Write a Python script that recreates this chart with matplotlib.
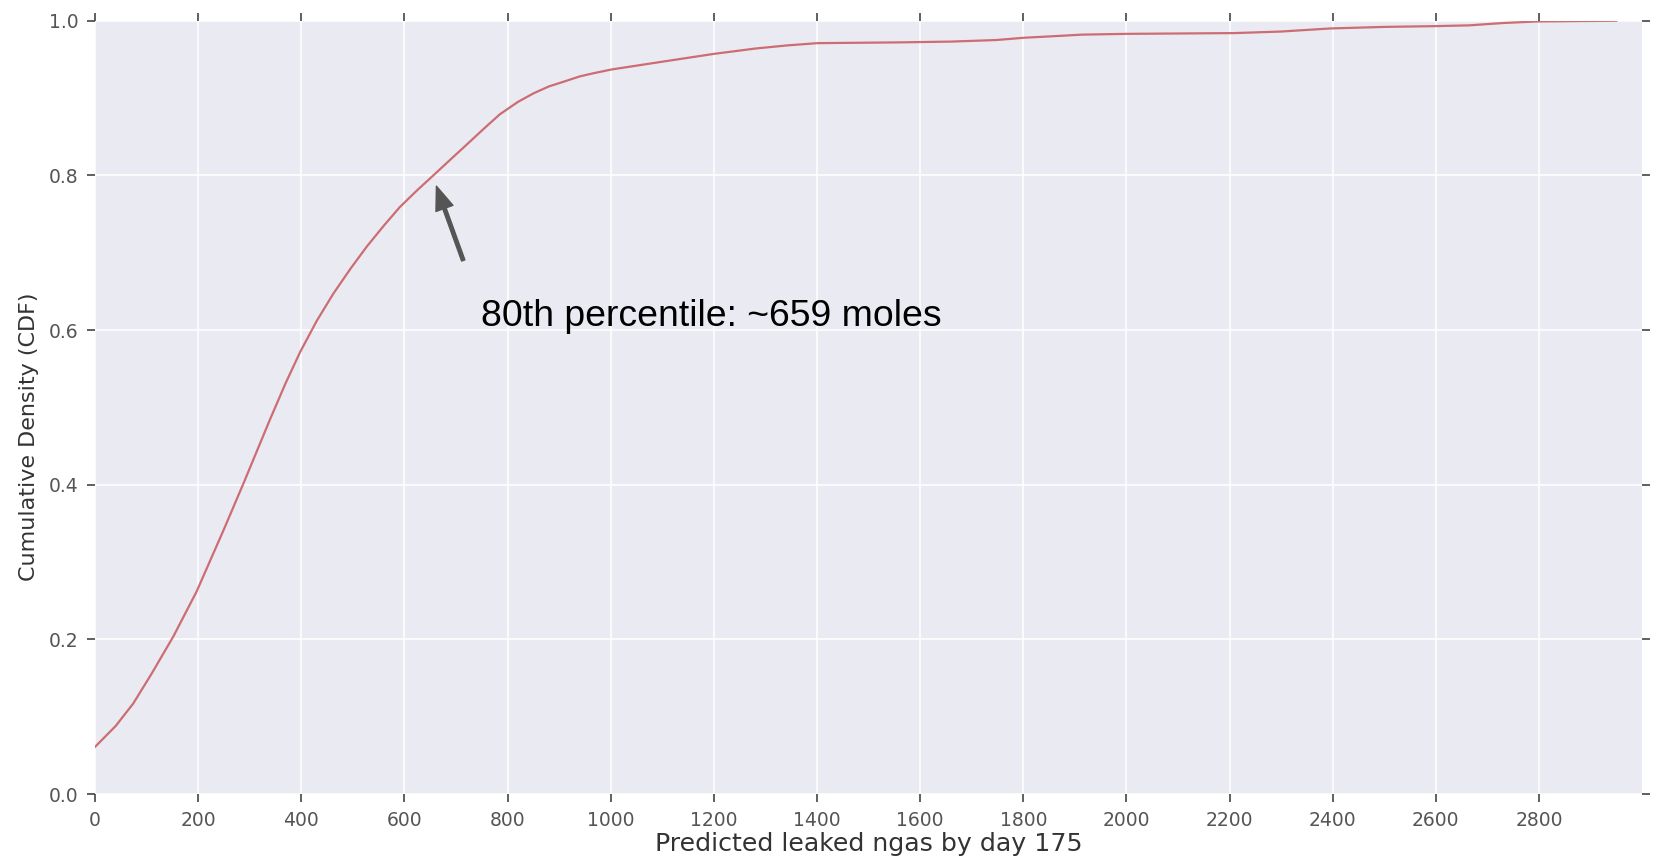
import numpy as np
import matplotlib
matplotlib.use('Agg')
import matplotlib.pyplot as plt

# CDF curve
leaked = [0, 40, 74, 110, 152, 197, 249, 288, 339, 370, 398, 430, 462, 495,
          527, 560, 591, 625, 656, 690, 721, 755, 785, 820, 850, 880, 908,
          940, 966, 1002, 1100, 1199, 1280, 1341, 1401, 1561, 1660, 1747,
          1802, 1860, 1914, 2000, 2210, 2300, 2396, 2500, 2600, 2665, 2730,
          2795, 2950]
cdf = [0.061, 0.088, 0.117, 0.156, 0.204, 0.262, 0.341, 0.402, 0.484, 0.532,
       0.572, 0.612, 0.647, 0.679, 0.708, 0.735, 0.759, 0.781, 0.800, 0.821,
       0.840, 0.861, 0.879, 0.895, 0.906, 0.915, 0.921, 0.928, 0.932, 0.937,
       0.947, 0.957, 0.964, 0.968, 0.971, 0.972, 0.973, 0.975, 0.978, 0.980,
       0.982, 0.983, 0.984, 0.986, 0.990, 0.992, 0.993, 0.994, 0.997, 0.999,
       1.0]

x_ticks = list(range(0, 2801, 200))
y_ticks = [0.0, 0.2, 0.4, 0.6, 0.8, 1.0]

note = '80th percentile: ~659 moles'

fig = plt.figure(figsize=(16.59, 8.56), dpi=100)
ax = fig.add_axes([0.0573, 0.0724, 0.9325, 0.9034])
ax.set_facecolor('#EAEAF2')
for s in ax.spines.values():
    s.set_visible(False)
ax.grid(True, color='white', linewidth=1.1)
ax.set_axisbelow(True)

ax.plot(leaked, cdf, color='#C44E52', alpha=0.8, linewidth=1.6)

ax.set_xlim(0, 3000)
ax.set_ylim(0, 1.0)
ax.set_xticks(x_ticks)
ax.set_yticks(y_ticks)
ax.set_yticklabels(['%.1f' % v for v in y_ticks])
ax.tick_params(direction='out', length=6, width=1.2, color='#444444',
               labelcolor='#555555', labelsize=13.5, pad=6,
               top=True, right=True)

ax.set_xlabel('Predicted leaked ngas by day 175', fontsize=18.2, color='#333333', labelpad=2)
ax.set_ylabel('Cumulative Density (CDF)', fontsize=16, color='#333333')
ax.yaxis.set_label_coords(-0.036, 0.462)

ax.annotate('', xy=(662, 0.786), xytext=(714, 0.690),
            arrowprops=dict(facecolor='#555555', edgecolor='#555555',
                            width=2.5, headwidth=13, headlength=17, shrink=0))
ax.text(749, 0.605, note, fontsize=26.9, family='Liberation Sans',
        color='black', va='baseline', ha='left')

fig.savefig('out.png', dpi=100)
